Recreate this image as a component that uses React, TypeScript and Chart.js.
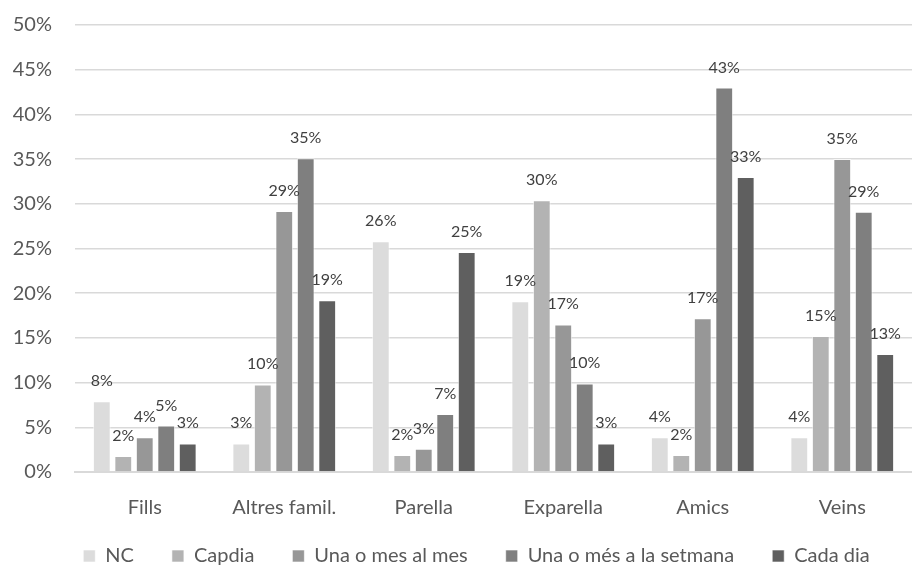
import React, { useEffect, useRef } from "react";
import { Chart, registerables } from "chart.js";

Chart.register(...registerables);

const categories = ["Fills", "Altres famil.", "Parella", "Exparella", "Amics", "Veins"];
const seriesNames = ["NC", "Capdia", "Una o mes al mes", "Una o més a la setmana", "Cada dia"];
const ncValues = [7.9, 3.2, 25.8, 19.1, 3.9, 3.9];
const capdiaValues = [1.8, 9.8, 1.9, 30.4, 1.9, 15.2];
const mesValues = [3.9, 29.2, 2.6, 16.5, 17.2, 35.0];
const setmanaValues = [5.2, 35.1, 6.5, 9.9, 43.0, 29.1];
const cadaDiaValues = [3.2, 19.2, 24.6, 3.2, 33.0, 13.2];
const seriesColors = ["#dcdcdc", "#b3b3b3", "#979797", "#7f7f7f", "#5f5f5f"];
const yTicks = [0, 5, 10, 15, 20, 25, 30, 35, 40, 45, 50];

const FONT = "Lato, 'Noto Sans', sans-serif";

const labelPlugin = {
  id: "barLabels",
  afterDatasetsDraw(chart: any) {
    const ctx = chart.ctx;
    ctx.save();
    ctx.font = `16px ${FONT}`;
    ctx.fillStyle = "#404040";
    ctx.textAlign = "center";
    ctx.textBaseline = "alphabetic";
    chart.data.datasets.forEach((ds: any, i: number) => {
      const meta = chart.getDatasetMeta(i);
      meta.data.forEach((bar: any, j: number) => {
        const v = ds.data[j];
        ctx.fillText(Math.round(v) + "%", bar.x, bar.y - 15);
      });
    });
    ctx.restore();
  },
};

const legendPlace = {
  id: "legendPlace",
  afterLayout(chart: any) {
    const lg = chart.legend;
    if (!lg) return;
    const h = lg.height;
    lg.top = 508;
    lg.bottom = 508 + h;
    lg.left += 14;
    lg.right += 14;
  },
};

export default function App() {
  const ref = useRef<HTMLCanvasElement>(null);
  useEffect(() => {
    if (!ref.current) return;
    const all = [ncValues, capdiaValues, mesValues, setmanaValues, cadaDiaValues];
    const chart = new Chart(ref.current, {
      type: "bar",
      data: {
        labels: categories,
        datasets: all.map((d, i) => ({
          label: seriesNames[i],
          data: d,
          backgroundColor: seriesColors[i],
          borderColor: "rgba(255,255,255,0.6)",
          borderWidth: 1,
          barPercentage: 0.83,
          categoryPercentage: 0.77,
        })),
      },
      options: {
        animation: false,
        responsive: true,
        maintainAspectRatio: false,
        layout: { padding: { left: 0, right: -13, top: -5, bottom: -19 } },
        plugins: {
          tooltip: { enabled: false },
          legend: {
            position: "bottom",
            labels: {
              font: { family: FONT, size: 20 },
              color: "#595959",
              boxWidth: 12,
              boxHeight: 12,
              padding: 38,
            },
          },
        },
        scales: {
          x: {
            grid: { display: false, drawTicks: false },
            border: { color: "#d9d9d9", width: 2 },
            afterFit: (axis: any) => {
              axis.height = 46;
            },
            ticks: {
              font: { family: FONT, size: 20 },
              color: "#595959",
              padding: 24,
            },
          },
          y: {
            min: 0,
            max: 50,
            afterBuildTicks: (axis: any) => {
              axis.ticks = yTicks.map((v) => ({ value: v }));
            },
            afterFit: (axis: any) => {
              axis.width = 75;
            },
            grid: {
              color: "#d9d9d9",
              lineWidth: 1.5,
              drawTicks: true,
              tickLength: 10,
              tickColor: "rgba(0,0,0,0)",
            },
            border: { display: false },
            ticks: {
              font: { family: FONT, size: 20 },
              color: "#595959",
              padding: 13,
              callback: (v: any) => v + "%",
            },
          },
        },
      },
      plugins: [labelPlugin, legendPlace],
    });
    return () => chart.destroy();
  }, []);
  return (
    <div style={{ position: "fixed", left: 0, top: 0, width: 912, height: 567, background: "#fff" }}>
      <canvas ref={ref} />
    </div>
  );
}
